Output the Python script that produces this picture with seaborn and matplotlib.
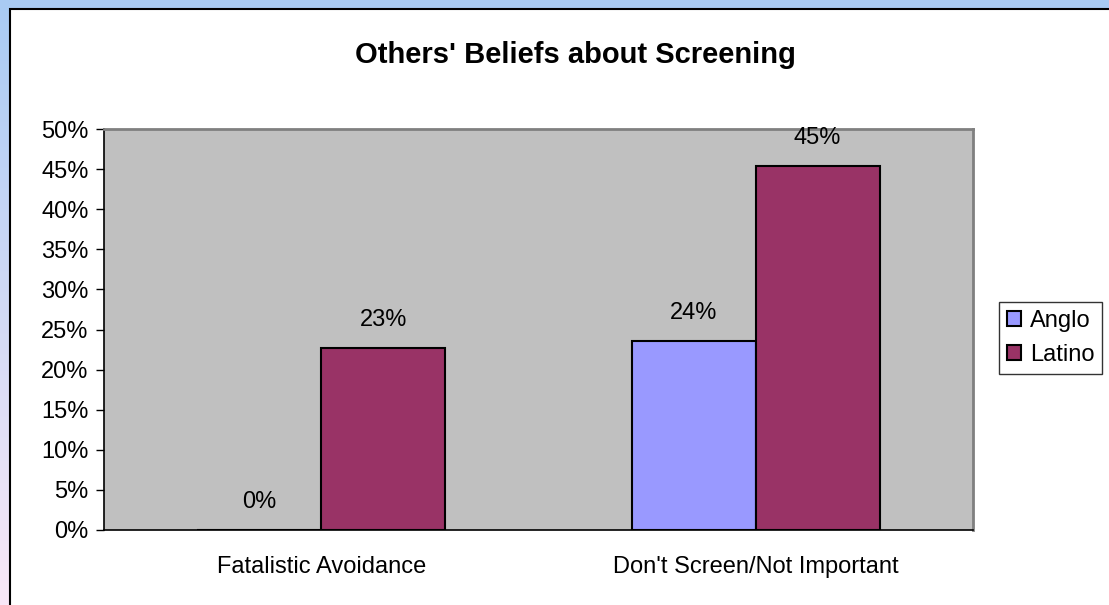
import numpy as np
import pandas as pd
import matplotlib
matplotlib.use("Agg")
import matplotlib.pyplot as plt
import matplotlib.patches as mpatches
import seaborn as sns

# chart data
categories = ["Fatalistic Avoidance", "Don't Screen/Not Important"]
groups = ["Anglo", "Latino"]
anglo = [0.0, 23.6]
latino = [22.7, 45.4]
colors = ["#9999FF", "#993366"]

df = pd.DataFrame({
    "category": categories * 2,
    "group": ["Anglo"] * 2 + ["Latino"] * 2,
    "value": anglo + latino,
})

sns.set_style("white")
plt.rcParams["font.family"] = ["Liberation Sans", "DejaVu Sans"]
plt.rcParams["text.color"] = "black"
plt.rcParams["xtick.color"] = "black"
plt.rcParams["ytick.color"] = "black"

fig = plt.figure(figsize=(11.09, 6.05), dpi=100)

# outer frame: blue band on top, blue-to-pink band on the left
bg = fig.add_axes([0, 0, 1, 1], zorder=-10)
grad = np.linspace(0, 1, 256).reshape(-1, 1)
top_c = np.array([0xA9, 0xCB, 0xF3]) / 255
bot_c = np.array([0xF9, 0xE8, 0xF8]) / 255
img = top_c * (1 - grad[..., None]) + bot_c * grad[..., None]
img = np.repeat(img, 2, axis=1)
bg.imshow(img, aspect="auto", extent=[0, 1, 0, 1])
bg.add_patch(mpatches.Rectangle((0, 1 - 9 / 605), 1, 9 / 605, color="#A9CBF3", zorder=2))
bg.add_patch(mpatches.Rectangle((10 / 1109, -0.1), 1.1, 1.1 - 9 / 605, facecolor="white",
                                edgecolor="black", linewidth=1.5, zorder=3))
bg.set_xlim(0, 1)
bg.set_ylim(0, 1)
bg.axis("off")

ax = fig.add_axes([104 / 1109, 1 - 530 / 605, (973 - 104) / 1109, (530 - 129) / 605])
ax.set_facecolor("#C0C0C0")

sns.barplot(data=df, x="category", y="value", hue="group", palette=colors,
            width=0.57, edgecolor="black", linewidth=1.5, saturation=1,
            legend=True, ax=ax)

for cont in ax.containers:
    ax.bar_label(cont, labels=[f"{v:.0f}%" for v in cont.datavalues],
                 padding=12, fontsize=17, color="black")

ax.set_xlim(-0.5, 1.5)
ax.set_ylim(0, 50)
ax.set_yticks(range(0, 51, 5))
ax.set_yticklabels([f"{t}%" for t in range(0, 51, 5)], fontsize=17)
ax.set_xticks([0, 1])
ax.set_xticklabels(categories, fontsize=17)
ax.set_xticks([-0.5, 0.5, 1.5], minor=True)
ax.tick_params(axis="x", which="major", length=0, pad=19)
ax.tick_params(axis="x", which="minor", length=6, width=1, color="black", direction="out")
ax.tick_params(axis="y", length=6, width=1, color="black", direction="out", left=True, pad=5)
ax.set_xlabel("")
ax.set_ylabel("")

for side in ["left", "bottom"]:
    ax.spines[side].set_color("black")
    ax.spines[side].set_linewidth(1.2)
for side in ["top", "right"]:
    ax.spines[side].set_color("#808080")
    ax.spines[side].set_linewidth(2)

ax.get_legend().remove()
handles = [mpatches.Patch(facecolor=c, edgecolor="black", linewidth=1.5) for c in colors]
leg = fig.legend(handles, groups, loc="center left",
                 bbox_to_anchor=(999 / 1109, 1 - 338 / 605), fontsize=17,
                 frameon=True, fancybox=False, handlelength=0.6, handleheight=0.6,
                 handletextpad=0.35, borderpad=0.35, borderaxespad=0,
                 labelspacing=0.5)
leg.get_frame().set_edgecolor("black")
leg.get_frame().set_linewidth(1)

fig.text(575 / 1109, 1 - 55 / 605, "Others' Beliefs about Screening",
         ha="center", va="center", fontsize=21, fontweight="bold", color="black")

fig.savefig("out.png", dpi=100)
